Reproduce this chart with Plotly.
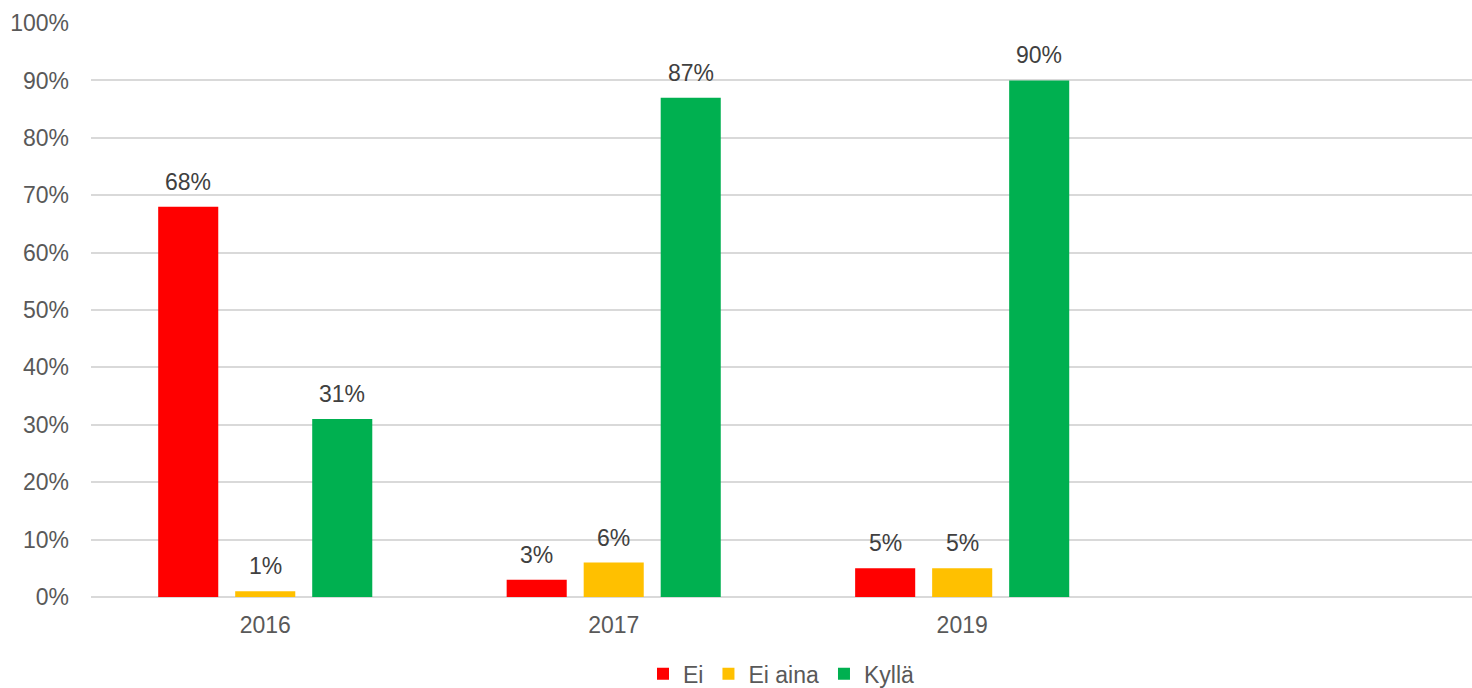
import plotly.graph_objects as go

years = ["2016", "2017", "2019"]
ei = [68, 3, 5]
ei_aina = [1, 6, 5]
kylla = [31, 87, 90]

series = [
    ("Ei", ei, "#ff0000"),
    ("Ei aina", ei_aina, "#ffc000"),
    ("Kyllä", kylla, "#00b050"),
]

FONT = "Liberation Sans, Arial"
BARGAP = 0.337
BARGROUPGAP = 0.22

x_pos = list(range(len(years)))

fig = go.Figure()
for name, vals, color in series:
    fig.add_trace(go.Bar(
        x=x_pos, y=vals, name=name,
        marker=dict(color=color, line=dict(width=0)),
    ))

# value labels above each bar, centred on the bar's slot within its group
n_series = len(series)
slot = (1 - BARGAP) / n_series
for k, (name, vals, color) in enumerate(series):
    offset = (k - (n_series - 1) / 2) * slot
    for i, v in enumerate(vals):
        fig.add_annotation(
            x=x_pos[i] + offset, y=v, xref="x", yref="y",
            text=f"{v}%", showarrow=False,
            xanchor="center", yanchor="bottom", yshift=10,
            font=dict(family=FONT, size=23, color="#404040"),
        )

fig.update_layout(
    width=1472, height=688,
    margin=dict(l=91, r=0, t=23, b=91, autoexpand=False),
    paper_bgcolor="white", plot_bgcolor="white",
    barmode="group", bargap=BARGAP, bargroupgap=BARGROUPGAP,
    font=dict(family=FONT, size=23, color="#595959"),
    showlegend=True,
    legend=dict(orientation="h", x=0.5, xanchor="center", y=-0.134, yanchor="middle",
                font=dict(family=FONT, size=23, color="#595959"), traceorder="normal",
                itemwidth=30, tracegroupgap=0),
)
fig.update_xaxes(
    range=[-0.5, 3.463], tickmode="array", tickvals=x_pos, ticktext=years,
    showgrid=False, zeroline=False, showline=False, ticks="",
    ticklabelstandoff=12,
    tickfont=dict(family=FONT, size=23, color="#595959"),
)
fig.update_yaxes(
    range=[0, 100.01], dtick=10, ticksuffix="%",
    showgrid=True, gridcolor="#d9d9d9", gridwidth=1.5,
    zeroline=True, zerolinecolor="#d9d9d9", zerolinewidth=1.5,
    showline=False, ticks="", ticklabelstandoff=21,
    tickfont=dict(family=FONT, size=23, color="#595959"),
)

fig.write_html("out.html")
